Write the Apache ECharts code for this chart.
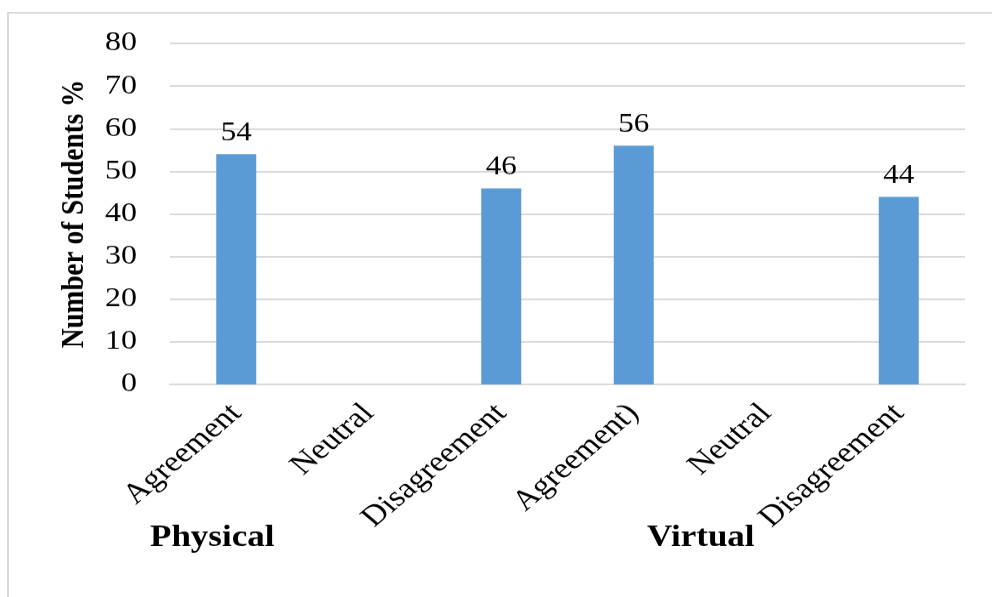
<!DOCTYPE html>
<html>
<head>
<meta charset="utf-8">
<script src="https://cdn.jsdelivr.net/npm/echarts@6/dist/echarts.min.js"></script>
<style>
  html, body { margin: 0; padding: 0; background: #fff; overflow: hidden; width: 992px; height: 597px; }
  /* the chart is laid out taller and squeezed vertically to the page height */
  #chart { width: 992px; height: 702px; transform: scaleY(0.8504); transform-origin: 0 0; }
</style>
</head>
<body>
<div id="chart"></div>
<script>
// Response categories along the x axis
const categories = ['Agreement', 'Neutral', 'Disagreement', 'Agreement)', 'Neutral', 'Disagreement'];
// Share of students (%) per category; empty where no bar is shown
const studentShare = [54, null, 46, 56, null, 44];
// Group captions under the axis
const groups = ['Physical', 'Virtual'];
const yTicks = { min: 0, max: 80, interval: 10 };

const serif = '"Liberation Serif", "Times New Roman", serif';
const chart = echarts.init(document.getElementById('chart'));

chart.setOption({
  animation: false,
  backgroundColor: '#fff',
  grid: { left: 170, right: 27, top: 51, bottom: 250 },
  xAxis: {
    type: 'category',
    data: categories,
    axisLine: { lineStyle: { color: '#d9d9d9', width: 2 } },
    axisTick: { show: false },
    axisLabel: {
      rotate: 45,
      interval: 0,
      margin: 29,
      color: '#000',
      fontFamily: serif,
      fontSize: 34
    }
  },
  yAxis: {
    type: 'value',
    min: yTicks.min,
    max: yTicks.max,
    interval: yTicks.interval,
    name: 'Number of Students %',
    nameLocation: 'middle',
    nameGap: 79,
    nameTextStyle: { color: '#000', fontFamily: serif, fontSize: 32, fontWeight: 'bold' },
    axisLine: { show: false },
    axisTick: { show: false },
    axisLabel: { color: '#000', fontFamily: serif, fontSize: 32, margin: 33 },
    splitLine: { lineStyle: { color: '#d9d9d9', width: 2 } }
  },
  series: [{
    type: 'bar',
    data: studentShare,
    barWidth: 40,
    itemStyle: { color: '#5b9bd5' },
    label: {
      show: true,
      position: 'top',
      distance: 9,
      color: '#000',
      fontFamily: serif,
      fontSize: 31
    }
  }],
  graphic: [
    {
      type: 'polyline',
      shape: { points: [[8, 702], [8, 15], [992, 15]] },
      style: { stroke: '#d9d9d9', lineWidth: 2, fill: null }
    },
    {
      type: 'text', x: 150, y: 633,
      style: { text: groups[0], font: 'bold 35px ' + serif, fill: '#000', verticalAlign: 'middle' }
    },
    {
      type: 'text', x: 647, y: 633,
      style: { text: groups[1], font: 'bold 35px ' + serif, fill: '#000', verticalAlign: 'middle' }
    }
  ]
});
</script>
</body>
</html>
